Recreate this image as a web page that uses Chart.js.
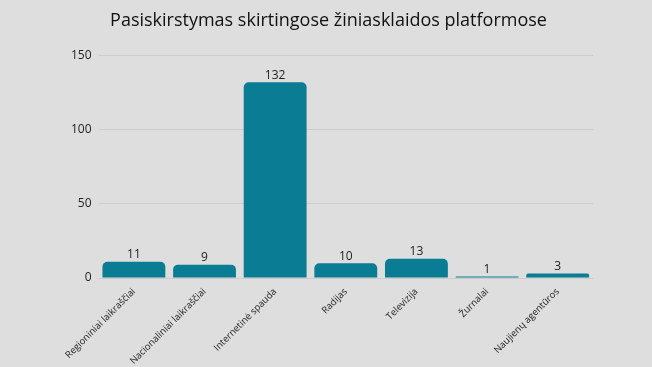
<!DOCTYPE html>
<html>
<head>
<meta charset="utf-8">
<script src="https://cdn.jsdelivr.net/npm/chart.js@4"></script>
<style>
  html, body { margin: 0; padding: 0; background: #dedede; }
  #wrap { width: 652px; height: 367px; }
</style>
</head>
<body>
<div id="wrap"><canvas id="myChart"></canvas></div>
<script>
let categories = ["Regioniniai laikraščiai", "Nacionaliniai laikraščiai", "Internetinė spauda", "Radijas", "Televizija", "Žurnalai", "Naujienų agentūros"];
let counts = [11, 9, 132, 10, 13, 1, 3];
let yTicks = [0, 50, 100, 150];

// draws the value above each bar
let valueLabels = {
  id: "valueLabels",
  afterDatasetsDraw(chart) {
    let c = chart.ctx;
    let meta = chart.getDatasetMeta(0);
    c.save();
    c.font = "12px 'Open Sans'";
    c.fillStyle = "#222";
    c.textAlign = "center";
    c.textBaseline = "bottom";
    meta.data.forEach((bar, i) => {
      c.fillText(counts[i], bar.x, bar.y - 1);
    });
    c.restore();
  }
};

let ctx = document.getElementById("myChart").getContext("2d");
let chart = new Chart(ctx, {
  type: "bar",
  data: {
    labels: categories,
    datasets: [{
      data: counts,
      backgroundColor: "#0a7c93",
      borderRadius: { topLeft: 5, topRight: 5 },
      borderSkipped: "bottom",
      barPercentage: 0.89,
      categoryPercentage: 1
    }]
  },
  options: {
    responsive: true,
    maintainAspectRatio: false,
    animation: false,
    layout: { padding: { left: 64, right: 59, top: 10, bottom: 0 } },
    plugins: {
      legend: { display: false },
      tooltip: { enabled: false },
      title: {
        display: true,
        text: "Pasiskirstymas skirtingose žiniasklaidos platformose",
        color: "#111",
        font: { family: "'Open Sans'", size: 18, weight: "normal" },
        padding: { top: 0, bottom: 24 }
      }
    },
    scales: {
      x: {
        grid: { display: false },
        border: { display: false },
        afterFit(axis) { axis.height = 89; },
        ticks: {
          color: "#222",
          font: { family: "'Open Sans'", size: 9.5 },
          maxRotation: 45,
          minRotation: 45,
          padding: 0
        }
      },
      y: {
        min: 0,
        max: 150,
        afterBuildTicks(axis) {
          axis.ticks = yTicks.map(v => ({ value: v }));
        },
        grid: { color: "#cdcdcd", drawTicks: false },
        border: { display: false },
        ticks: {
          color: "#222",
          font: { family: "'Open Sans'", size: 12 },
          padding: 7
        }
      }
    }
  },
  plugins: [valueLabels]
});
</script>
</body>
</html>
